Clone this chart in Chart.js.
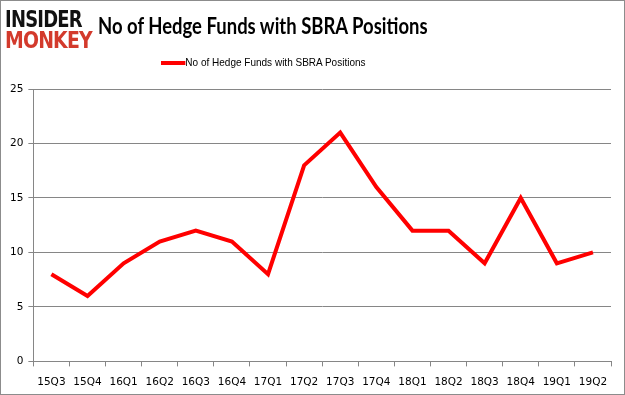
<!DOCTYPE html>
<html>
<head>
<meta charset="utf-8">
<script src="https://cdn.jsdelivr.net/npm/chart.js@4"></script>
<style>
  html, body { margin: 0; padding: 0; background: #fff; }
  #wrap { position: relative; width: 623px; height: 393px; border: 1px solid #8c8c8c; overflow: hidden; }
  #chart { position: absolute; left: 0; top: 0; }
  .logo { position: absolute; left: 4px; font-family: "DejaVu Sans"; font-weight: bold; font-size: 23px; letter-spacing: -1px; transform-origin: left top; line-height: 23px; white-space: nowrap; }
  #title { position: absolute; left: 97px; top: 11px; font-family: Lato; font-weight: bold; font-size: 22px; color: #000; transform: scaleX(0.84); transform-origin: left top; white-space: nowrap; }
  #legend { position: absolute; left: 160px; top: 55px; font-family: "Liberation Sans"; font-size: 11.5px; color: #000; transform: scaleX(0.87); transform-origin: left top; white-space: nowrap; }
  #legend span.sw { display: inline-block; width: 28px; height: 4px; background: #ff0000; vertical-align: middle; }
</style>
</head>
<body>
<div id="wrap">
  <canvas id="chart" width="623" height="398"></canvas>
  <div class="logo" style="top:7px;color:#111;transform:scaleX(0.78);">INSIDER</div>
  <div class="logo" style="top:28px;color:#d33a2c;transform:scaleX(0.82);">MONKEY</div>
  <div id="title">No of Hedge Funds with SBRA Positions</div>
  <div id="legend"><span class="sw"></span>No of Hedge Funds with SBRA Positions</div>
</div>
<script>
  const quarters = ['15Q3', '15Q4', '16Q1', '16Q2', '16Q3', '16Q4', '17Q1', '17Q2', '17Q3', '17Q4', '18Q1', '18Q2', '18Q3', '18Q4', '19Q1', '19Q2'];
  const hedgeFunds = [8, 6, 9, 11, 12, 11, 8, 18, 21, 16, 12, 12, 9, 15, 9, 10];
  const yTicks = [0, 5, 10, 15, 20, 25];

  const tickFont = { family: 'DejaVu Sans', size: 10.5 };

  new Chart(document.getElementById('chart'), {
    type: 'line',
    data: {
      labels: quarters,
      datasets: [{
        label: 'No of Hedge Funds with SBRA Positions',
        data: hedgeFunds,
        borderColor: '#ff0000',
        borderWidth: 4,
        pointRadius: 0,
        fill: false,
        tension: 0
      }]
    },
    options: {
      responsive: false,
      animation: false,
      layout: { padding: { top: 88, right: 13, left: 4, bottom: 0 } },
      plugins: { legend: { display: false }, tooltip: { enabled: false } },
      scales: {
        x: {
          offset: true,
          grid: { display: true, drawOnChartArea: false, offset: true, color: '#868686', tickLength: 5 },
          border: { color: '#868686' },
          ticks: { color: '#000', font: tickFont, maxRotation: 0, padding: 10 }
        },
        y: {
          min: 0,
          max: 25,
          afterBuildTicks: axis => { axis.ticks = yTicks.map(v => ({ value: v })); },
          grid: { color: '#868686', tickLength: 5 },
          border: { color: '#868686' },
          ticks: { color: '#000', font: tickFont, padding: 5 }
        }
      }
    }
  });
</script>
</body>
</html>
